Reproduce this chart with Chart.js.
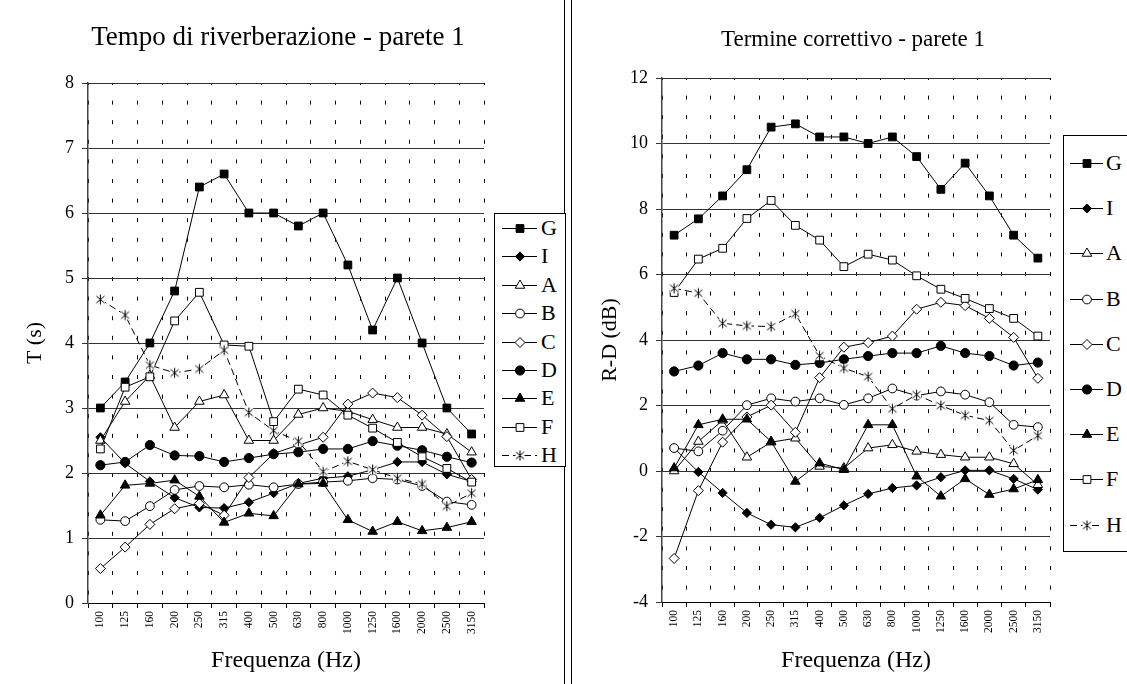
<!DOCTYPE html>
<html>
<head>
<meta charset="utf-8">
<script src="https://cdn.jsdelivr.net/npm/chart.js@4.4.1/dist/chart.umd.min.js"></script>
<style>
  body { margin: 0; width: 1127px; height: 684px; background: #fff; overflow: hidden; position: relative;
         font-family: "Liberation Serif", "Times New Roman", serif; }
  .panel { position: absolute; top: -1px; height: 684px; border: 1px solid #000; }
  #pL { left: -2px; width: 565px; }
  #pR { left: 571px; width: 560px; }
  canvas.chart { position: absolute; top: 0; }
  #cL { left: 0; }
  #cR { left: 573px; }
  .leg { position: absolute; border: 1px solid #000; background: #fff; }
  .leg canvas { position: absolute; left: 0; }
  .leg span { position: absolute; font-size: 22px; line-height: 22px; color: #000; }
</style>
</head>
<body>
<div class="panel" id="pL"></div>
<div class="panel" id="pR"></div>
<canvas class="chart" id="cL" width="560" height="684"></canvas>
<canvas class="chart" id="cR" width="554" height="684"></canvas>
<div class="leg" id="legL"></div>
<div class="leg" id="legR"></div>
<script>
// frequenze (Hz)
const freqs = ['100','125','160','200','250','315','400','500','630','800','1000','1250','1600','2000','2500','3150'];
const names = ['G','I','A','B','C','D','E','F','H'];

// tempo di riverberazione T (s)
const tG = [3.0,3.4,4.0,4.8,6.4,6.6,6.0,6.0,5.8,6.0,5.2,4.2,5.0,4.0,3.0,2.6];
const tI = [2.55,2.15,1.87,1.62,1.47,1.46,1.55,1.69,1.84,1.92,1.95,2.05,2.17,2.17,1.98,1.87];
const tA = [2.5,3.1,3.5,2.7,3.1,3.2,2.5,2.5,2.9,3.0,2.95,2.82,2.7,2.7,2.6,2.32];
const tB = [1.28,1.26,1.49,1.74,1.8,1.78,1.82,1.78,1.83,1.86,1.88,1.92,1.9,1.8,1.56,1.51];
const tC = [0.53,0.86,1.21,1.45,1.53,1.35,1.93,2.3,2.43,2.55,3.06,3.23,3.16,2.89,2.56,1.9];
const tD = [2.12,2.17,2.43,2.27,2.26,2.17,2.23,2.29,2.32,2.37,2.37,2.49,2.42,2.35,2.25,2.16];
const tE = [1.35,1.81,1.84,1.89,1.64,1.24,1.38,1.34,1.83,1.84,1.28,1.1,1.25,1.11,1.16,1.25];
const tF = [2.37,3.32,3.48,4.34,4.78,3.97,3.95,2.79,3.29,3.2,2.89,2.69,2.47,2.25,2.07,1.86];
const tH = [4.67,4.43,3.66,3.54,3.6,3.89,2.93,2.65,2.49,2.02,2.18,2.05,1.92,1.83,1.49,1.69];

// termine correttivo R-D (dB)
const rG = [7.2,7.7,8.4,9.2,10.5,10.6,10.2,10.2,10.0,10.2,9.6,8.6,9.4,8.4,7.2,6.5];
const rI = [0.7,-0.03,-0.67,-1.28,-1.64,-1.72,-1.43,-1.05,-0.7,-0.52,-0.44,-0.19,0.02,0.02,-0.24,-0.57];
const rA = [0.0,0.9,1.55,0.42,0.88,1.0,0.14,0.09,0.7,0.8,0.6,0.5,0.42,0.42,0.22,-0.42];
const rB = [0.7,0.6,1.23,2.01,2.22,2.12,2.22,2.02,2.22,2.52,2.3,2.43,2.33,2.1,1.41,1.34];
const rC = [-2.67,-0.6,0.88,1.65,2.01,1.18,2.85,3.78,3.92,4.12,4.94,5.15,5.05,4.66,4.08,2.83];
const rD = [3.04,3.22,3.6,3.41,3.41,3.24,3.3,3.41,3.51,3.6,3.6,3.82,3.6,3.51,3.22,3.31];
const rE = [0.09,1.41,1.58,1.58,0.9,-0.32,0.24,0.04,1.41,1.41,-0.16,-0.77,-0.24,-0.72,-0.55,-0.27];
const rF = [5.45,6.47,6.8,7.71,8.26,7.5,7.05,6.24,6.62,6.44,5.96,5.55,5.27,4.96,4.66,4.12];
const rH = [5.58,5.43,4.51,4.43,4.41,4.8,3.52,3.14,2.88,1.9,2.33,2.0,1.7,1.54,0.63,1.08];

const FONT = "'Liberation Serif', 'Times New Roman', serif";

// marcatore stella (x + barra verticale) su fondo bianco
function starImage() {
    var c = document.createElement('canvas');
    c.width = 13; c.height = 13;
    var g = c.getContext('2d');
    g.fillStyle = '#fff';
    g.fillRect(2, 2, 9, 9);
    g.strokeStyle = '#000';
    g.lineWidth = 1;
    g.beginPath();
    g.moveTo(2.5, 3); g.lineTo(10.5, 10);
    g.moveTo(10.5, 3); g.lineTo(2.5, 10);
    g.moveTo(6.5, 1.5); g.lineTo(6.5, 11.5);
    g.stroke();
    return c;
}
const star = starImage();

const markers = {
    G: { ps: 'rect',     r: 5.5, fill: '#000' },
    I: { ps: 'rectRot',  r: 4.6, fill: '#000' },
    A: { ps: 'triangle', r: 5.5, fill: '#fff' },
    B: { ps: 'circle',   r: 4.4, fill: '#fff' },
    C: { ps: 'rectRot',  r: 5,   fill: '#fff' },
    D: { ps: 'circle',   r: 4.6, fill: '#000' },
    E: { ps: 'triangle', r: 5.5, fill: '#000' },
    F: { ps: 'rect',     r: 5.5, fill: '#fff' },
    H: { ps: star,       r: 6,   fill: '#fff', dash: [7, 4] }
};

// titolo del pannello, centrato sul riquadro e non solo sull'area del grafico
const panelTitle = {
    id: 'panelTitle',
    afterDraw: function(chart, args, opts) {
        var ctx = chart.ctx;
        ctx.save();
        ctx.font = opts.size + 'px ' + FONT;
        ctx.fillStyle = '#000';
        ctx.textAlign = 'center';
        ctx.textBaseline = 'middle';
        ctx.fillText(opts.text, opts.x, opts.y);
        ctx.restore();
    }
};

function makeSets(vals) {
    return names.map(function(n, i) {
        var m = markers[n];
        return {
            label: n, data: vals[i], order: names.length - 1 - i,
            borderColor: '#000', borderWidth: 1, borderDash: m.dash || [],
            tension: 0, fill: false,
            pointStyle: m.ps, pointRadius: m.r,
            pointBackgroundColor: m.fill, pointBorderColor: '#000', pointBorderWidth: 1
        };
    });
}

function makeChart(id, vals, cfg) {
    return new Chart(document.getElementById(id), {
        type: 'line',
        data: { labels: freqs, datasets: makeSets(vals) },
        plugins: [panelTitle],
        options: {
            responsive: false, animation: false, devicePixelRatio: 1, events: [],
            layout: { padding: { left: 0, right: cfg.padRight, top: cfg.padTop, bottom: 0 } },
            plugins: {
                legend: { display: false },
                tooltip: { enabled: false },
                panelTitle: { text: cfg.title, size: cfg.titleSize, x: cfg.titleX, y: cfg.titleY }
            },
            scales: {
                x: {
                    offset: true,
                    afterFit: function(s) { s.height = cfg.xHeight; },
                    grid: { offset: true, color: '#000', lineWidth: 1, tickLength: 5, tickColor: '#000' },
                    border: { display: true, color: '#000', width: 1, dash: [4, 15.6], dashOffset: 2 },
                    ticks: { autoSkip: false, minRotation: 90, maxRotation: 90, padding: 3, color: '#000',
                             font: { family: FONT, size: 11.5 } },
                    title: { display: true, text: 'Frequenza (Hz)', color: '#000',
                             font: { family: FONT, size: 24 }, padding: { top: 2, bottom: 9 } }
                },
                y: {
                    min: cfg.yMin, max: cfg.yMax,
                    afterFit: function(s) { s.width = cfg.yWidth; },
                    grid: { color: '#333', lineWidth: 1, tickLength: 6, tickColor: '#333' },
                    border: { display: true, color: '#444', width: 1.5 },
                    ticks: { stepSize: cfg.yStep, padding: 8, color: '#000', font: { family: FONT, size: 18 } },
                    title: { display: true, text: cfg.yTitle, color: '#000',
                             font: { family: FONT, size: 22 }, padding: { top: cfg.yTitlePad, bottom: 0 } }
                }
            }
        }
    });
}

makeChart('cL', [tG, tI, tA, tB, tC, tD, tE, tF, tH], {
    title: 'Tempo di riverberazione - parete 1', titleSize: 27, titleX: 278, titleY: 38,
    padTop: 83, padRight: 76, xHeight: 81, yWidth: 88, yMin: 0, yMax: 8, yStep: 1,
    yTitle: 'T (s)', yTitlePad: 22
});

makeChart('cR', [rG, rI, rA, rB, rC, rD, rE, rF, rH], {
    title: 'Termine correttivo - parete 1', titleSize: 23, titleX: 280, titleY: 40,
    padTop: 78, padRight: 77, xHeight: 82, yWidth: 89, yMin: -4, yMax: 12, yStep: 2,
    yTitle: 'R-D (dB)', yTitlePad: 24
});

// legenda a destra di ogni grafico
function buildLegend(id, box, first, step, x0, x1, xm, xt) {
    var el = document.getElementById(id);
    el.style.left = box[0] + 'px'; el.style.top = box[1] + 'px';
    el.style.width = box[2] + 'px'; el.style.height = box[3] + 'px';
    names.forEach(function(n, i) {
        var m = markers[n];
        var cy = first + i * step;
        var c = document.createElement('canvas');
        c.width = x1 + 2; c.height = 18;
        c.style.top = (cy - 9) + 'px';
        el.appendChild(c);
        var g = c.getContext('2d');
        g.strokeStyle = '#000'; g.lineWidth = 1;
        g.setLineDash(m.dash || []);
        g.beginPath(); g.moveTo(x0, 9.5); g.lineTo(x1, 9.5); g.stroke();
        g.setLineDash([]);
        g.fillStyle = m.fill;
        Chart.helpers.drawPoint(g, { pointStyle: m.ps, radius: m.r, rotation: 0, borderWidth: 1 }, xm, 9.5);
        var s = document.createElement('span');
        s.textContent = n;
        s.style.left = xt + 'px'; s.style.top = (cy - 11) + 'px';
        el.appendChild(s);
    });
}

buildLegend('legL', [494, 213, 70, 252], 14, 28.4, 7, 42, 25, 46);
buildLegend('legR', [1063, 135, 80, 415], 27, 45.2, 6, 39, 23, 42);
</script>
</body>
</html>
